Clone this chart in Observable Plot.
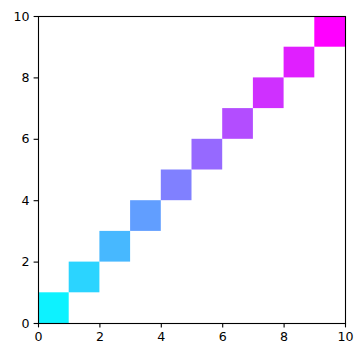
<!DOCTYPE html>
<html>
<head>
<meta charset="utf-8">
<script src="https://cdn.jsdelivr.net/npm/d3@7"></script>
<script src="https://cdn.jsdelivr.net/npm/@observablehq/plot@0.6"></script>
<style>
  html, body { margin: 0; padding: 0; background: #fff; }
  #chart svg { display: block; }
  #chart svg text { font-size: 12.6px !important; font-family: "DejaVu Sans", sans-serif !important; fill: #000; }
</style>
</head>
<body>
<div id="chart"></div>
<script>
// Diagonal cells: index i covers [i, i+1] on both axes
const cellIndex = [0, 1, 2, 3, 4, 5, 6, 7, 8, 9];
// Colour value of each cell (0 = cyan, 1 = magenta)
const cellValue = [0.05, 0.17, 0.28, 0.38, 0.5, 0.59, 0.7, 0.81, 0.88, 1.0];
const xTicks = [0, 2, 4, 6, 8, 10];
const yTicks = [0, 2, 4, 6, 8, 10];

const cells = cellIndex.map((i, k) => ({x1: i, x2: i + 1, y1: i, y2: i + 1, v: cellValue[k]}));

const chart = Plot.plot({
  width: 364,
  height: 357,
  marginLeft: 38,
  marginRight: 19,
  marginTop: 16,
  marginBottom: 34,
  style: {fontFamily: "DejaVu Sans", fontSize: "12.6px", background: "#fff", color: "#000"},
  x: {domain: [0, 10], ticks: xTicks, label: null},
  y: {domain: [0, 10], ticks: yTicks, label: null},
  color: {type: "linear", domain: [0, 1], range: ["#00ffff", "#ff00ff"], interpolate: "rgb"},
  marks: [
    Plot.rect(cells, {x1: "x1", x2: "x2", y1: "y1", y2: "y2", fill: "v", inset: 0}),
    Plot.axisX({ticks: xTicks, tickSize: 4.4, tickPadding: 4.6, fontSize: 12.6, stroke: "#000", strokeWidth: 1.1, tickFormat: d => String(d), label: null}),
    Plot.axisY({ticks: yTicks, tickSize: 4.4, tickPadding: 4.6, fontSize: 12.6, stroke: "#000", strokeWidth: 1.1, tickFormat: d => String(d), label: null}),
    Plot.frame({stroke: "#000", strokeWidth: 1.1})
  ]
});
document.getElementById("chart").appendChild(chart);
</script>
</body>
</html>
